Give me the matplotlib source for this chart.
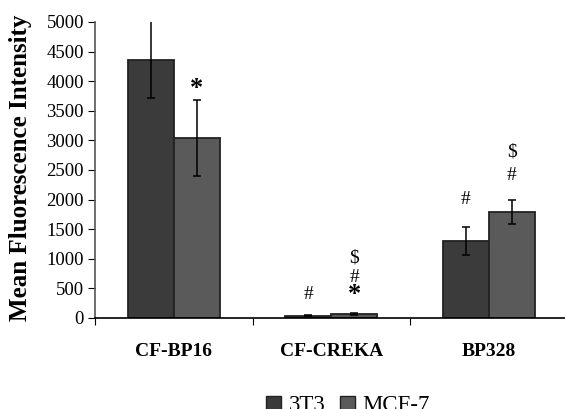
import matplotlib.pyplot as plt
import numpy as np
from matplotlib.patches import Patch

# data
categories = ['CF-BP16', 'CF-CREKA', 'BP328']
series = ['3T3', 'MCF-7']
mean_3t3 = [4360, 40, 1300]
err_3t3 = [650, 12, 230]
mean_mcf7 = [3040, 65, 1790]
err_mcf7 = [645, 15, 210]

# significance marks: (category index, series index, symbol, y in data units)
marks = [
    (0, 1, '*', 3870),
    (1, 0, '#', 390),
    (1, 1, '*', 400),
    (1, 1, '#', 690),
    (1, 1, '$', 1010),
    (2, 0, '#', 2010),
    (2, 1, '#', 2415),
    (2, 1, '$', 2800),
]

colors = ['#3b3b3b', '#5a5a5a']
plt.rcParams['font.family'] = ['Liberation Serif', 'DejaVu Serif']

fig = plt.figure(figsize=(5.65, 4.09), dpi=100)
ax = fig.add_axes([95 / 565, 91 / 409, 470 / 565, 296 / 409])

x = np.arange(len(categories)) + 0.5
w = 0.292
offsets = [-w / 2, w / 2]
for i, (vals, errs) in enumerate([(mean_3t3, err_3t3), (mean_mcf7, err_mcf7)]):
    ax.bar(x + offsets[i], vals, width=w, color=colors[i], edgecolor='#222222',
           linewidth=1.3, zorder=2)
    ax.errorbar(x + offsets[i], vals, yerr=errs, fmt='none', ecolor='black',
                elinewidth=1.1, capsize=2.6, capthick=1.1, zorder=3)

for ci, si, sym, y in marks:
    if sym == '*':
        ax.text(x[ci] + offsets[si], y, sym, ha='center', va='center',
                fontsize=19, fontweight='bold', color='black')
    else:
        ax.text(x[ci] + offsets[si], y, sym, ha='center', va='center',
                fontsize=14, color='black')

ax.set_xlim(0, 470 / 157.5)
ax.set_ylim(0, 5000)
ax.set_yticks(np.arange(0, 5001, 500))
ax.tick_params(axis='y', labelsize=13.5, length=5, direction='out', pad=3)
ax.set_xticks([0, 1, 2])
ax.set_xticklabels([])
ax.tick_params(axis='x', which='major', length=5, direction='out')
ax.set_xticks(x, minor=True)
ax.set_xticklabels(categories, minor=True, fontsize=14, fontweight='bold')
ax.tick_params(axis='x', which='minor', length=0, pad=18)

for side in ['top', 'right']:
    ax.spines[side].set_visible(False)
ax.spines['left'].set_color('#555555')
ax.spines['left'].set_linewidth(1.2)
ax.spines['bottom'].set_linewidth(1.2)

fig.text(21 / 565, 1 - 168 / 409, 'Mean Fluorescence Intensity', rotation=90,
         ha='center', va='center', fontsize=18, fontweight='bold')

handles = [Patch(facecolor=colors[i], edgecolor='#222222', linewidth=1) for i in range(2)]
fig.legend(handles, series, loc='upper left', bbox_to_anchor=(255 / 565, 1 - 384 / 409),
           ncol=2, frameon=False, fontsize=16.5, handlelength=0.65, handleheight=0.65,
           handletextpad=0.35, columnspacing=0.6, borderpad=0)

fig.savefig('out.png', dpi=100)
